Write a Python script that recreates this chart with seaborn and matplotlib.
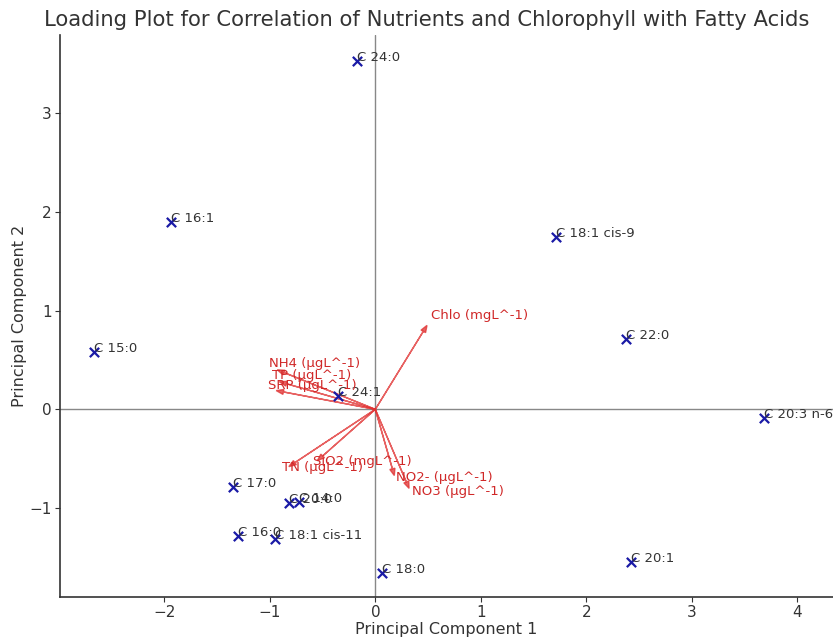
import matplotlib
matplotlib.use("Agg")
import matplotlib.pyplot as plt
import seaborn as sns
import pandas as pd

# Fatty acid scores
fa_labels = ["C 24:0", "C 16:1", "C 18:1 cis-9", "C 15:0", "C 22:0", "C 24:1",
             "C 20:3 n-6", "C 17:0", "C 20:0", "C 14:0", "C 16:0",
             "C 18:1 cis-11", "C 18:0", "C 20:1"]
pc1 = [-0.17, -1.94, 1.71, -2.67, 2.38, -0.35, 3.69, -1.35, -0.82, -0.72,
       -1.30, -0.95, 0.06, 2.42]
pc2 = [3.53, 1.90, 1.74, 0.58, 0.71, 0.13, -0.09, -0.79, -0.95, -0.94,
       -1.28, -1.31, -1.66, -1.55]

# Nutrient / chlorophyll loadings
var_labels = ["Chlo (mgL^-1)", "NH4 (µgL^-1)", "TP (µgL^-1)", "SRP (µgL^-1)",
              "TN (µgL^-1)", "SiO2 (mgL^-1)", "NO2- (µgL^-1)", "NO3 (µgL^-1)"]
load1 = [0.49, -0.93, -0.91, -0.94, -0.82, -0.55, 0.18, 0.32]
load2 = [0.85, 0.40, 0.28, 0.19, -0.58, -0.52, -0.67, -0.80]

sns.set_style("white")
plt.rcParams['font.family'] = ['DejaVu Sans']

fig = plt.figure(figsize=(8.33, 6.39), dpi=100)
ax = fig.add_axes([60/833, 42/639, 773/833, 562/639])

df = pd.DataFrame({"PC1": pc1, "PC2": pc2, "label": fa_labels})
sns.scatterplot(data=df, x="PC1", y="PC2", marker="x", color="#1a1aa6",
                s=45, linewidth=1.6, ax=ax, zorder=3)
for x, y, t in zip(pc1, pc2, fa_labels):
    ax.text(x, y, t, fontsize=9.5, color="#333333", zorder=4)

for x, y, t in zip(load1, load2, var_labels):
    ax.arrow(0, 0, x, y, color="#e03030", alpha=0.75, linewidth=1.0,
             head_width=0.05, head_length=0.07, length_includes_head=True,
             zorder=2)
    ax.text(x * 1.08, y * 1.08, t, fontsize=9.5, color="#d02828", zorder=4)

ax.axhline(0, color="#888888", linewidth=1.0, zorder=1)
ax.axvline(0, color="#888888", linewidth=1.0, zorder=1)

ax.set_xlim(-2.99, 4.34)
ax.set_ylim(-1.90, 3.79)
ax.set_xticks([-2, -1, 0, 1, 2, 3, 4])
ax.set_yticks([-1, 0, 1, 2, 3])
ax.tick_params(axis="both", labelsize=11, colors="#333333", length=3.5,
               pad=2.5, direction="out", bottom=True, left=True)
for s in ["top", "right"]:
    ax.spines[s].set_visible(False)
for s in ["left", "bottom"]:
    ax.spines[s].set_color("#333333")
    ax.spines[s].set_linewidth(1.2)

ax.set_xlabel("Principal Component 1", fontsize=11.5, color="#333333", labelpad=1)
ax.set_ylabel("Principal Component 2", fontsize=11.5, color="#333333", labelpad=2)
fig.text(427/833, 1 - 20/639, "Loading Plot for Correlation of Nutrients and Chlorophyll with Fatty Acids",
         fontsize=15.2, color="#333333", ha="center", va="center")

fig.savefig("out.png", dpi=100)
